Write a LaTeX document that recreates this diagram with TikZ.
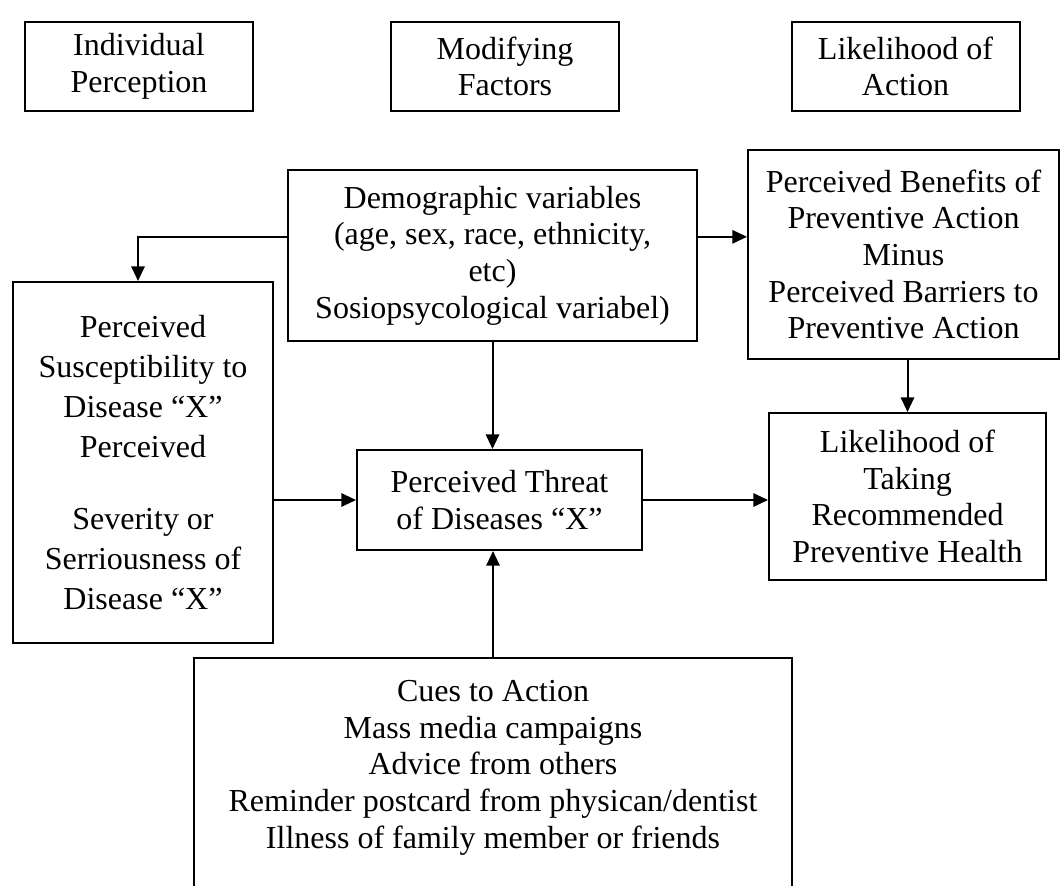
\documentclass[tikz,border=0pt]{standalone}
\usepackage{fontspec}
\setmainfont{Liberation Serif}
\usepackage{tikz}
\usetikzlibrary{arrows.meta}

\begin{document}
\begin{tikzpicture}[x=0.75pt,y=-0.75pt,
  box/.style={draw,line width=1.5pt,align=center,inner sep=0pt,
    font=\fontsize{24}{27.5}\selectfont},
  arr/.style={line width=1.5pt,-{Triangle[length=11pt,width=10pt]}}]
  \useasboundingbox (0,0) rectangle (1062,885);
  \clip (0,0) rectangle (1062,885);
  % headings
  \node[box,minimum width=171pt,minimum height=66.75pt] (indiv) at (139,66.5) {Individual\\Perception};
  \node[box,minimum width=171pt,minimum height=66.75pt] (modif) at (505,66.5) {Modifying\\Factors};
  \node[box,minimum width=171pt,minimum height=66.75pt] (likely) at (905.5,66.5) {Likelihood of\\Action};
  % model
  \node[box,minimum width=306.75pt,minimum height=128.25pt] (demo) at (492.5,255.5)
    {Demographic variables\\(age, sex, race, ethnicity,\\etc)\\Sosiopsycological variabel)};
  \node[box,minimum width=233.25pt,minimum height=156.75pt] (benef) at (903.5,254.5)
    {Perceived Benefits of\\Preventive Action\\Minus\\Perceived Barriers to\\Preventive Action};
  \node[box,minimum width=195pt,minimum height=270.75pt,
    font=\fontsize{24}{30}\selectfont] (suscept) at (143,462.5)
    {Perceived\\Susceptibility to\\Disease “X”\\Perceived\\[24pt]Severity or\\Serriousness of\\Disease “X”};
  \node[box,minimum width=213.75pt,minimum height=75pt] (threat) at (499.5,500)
    {Perceived Threat\\of Diseases “X”};
  \node[box,minimum width=207.75pt,minimum height=125.25pt] (take) at (907.5,496.5)
    {Likelihood of\\Taking\\Recommended\\Preventive Health};
  \node[box,minimum width=448.5pt,minimum height=186.75pt] (cues) at (493,782.5)
    {Cues to Action\\Mass media campaigns\\Advice from others\\Reminder postcard from physican/dentist\\Illness of family member or friends\\\mbox{}};
  % arrows
  \draw[arr] ([yshift=14pt]demo.west) -| ([xshift=-3.75pt]suscept.north);
  \draw[arr] ([yshift=14pt]demo.east) -- ([yshift=14pt]demo.east -| benef.west);
  \draw[arr] (demo.south) -- (demo.south |- threat.north);
  \draw[arr] (take.north |- benef.south) -- (take.north);
  \draw[arr] (suscept.east |- threat.west) -- (threat.west);
  \draw[arr] (threat.east) -- (threat.east -| take.west);
  \draw[arr] (cues.north) -- (cues.north |- threat.south);
\end{tikzpicture}
\end{document}
